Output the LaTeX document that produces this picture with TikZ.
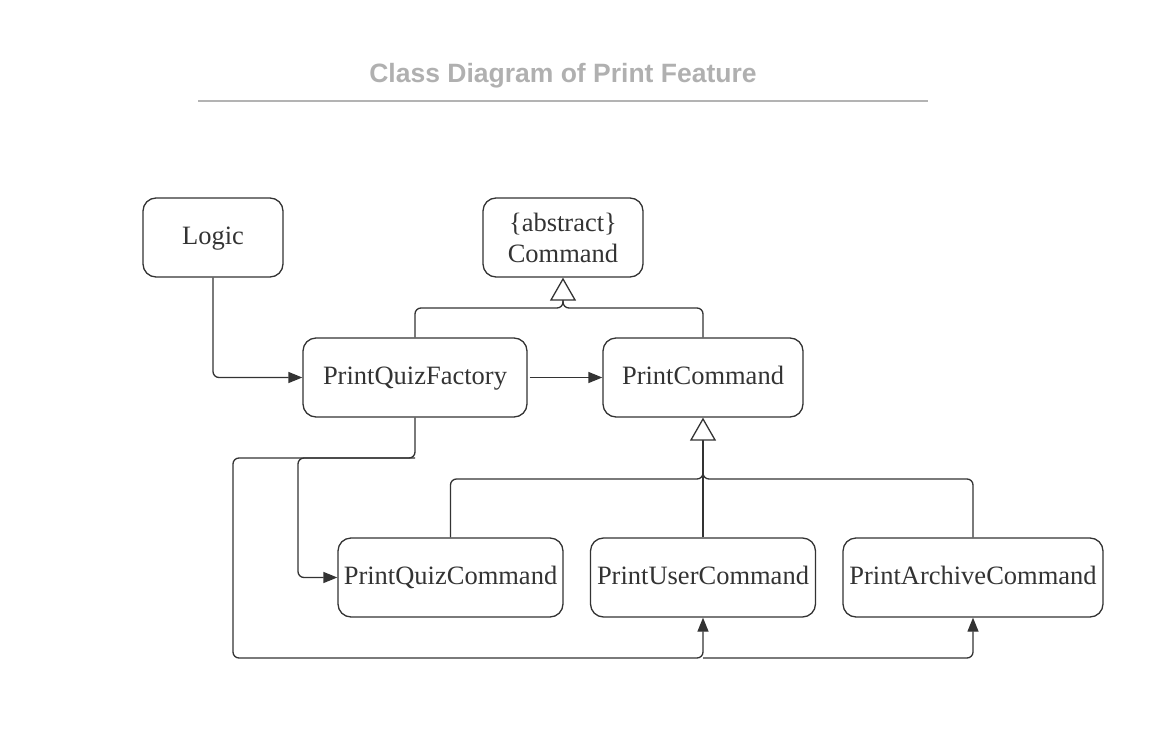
\documentclass[tikz,border=0pt]{standalone}
\usepackage{fontspec}
\setmainfont{Liberation Serif}
\newfontfamily\titlefont{Liberation Sans}
\usetikzlibrary{arrows.meta}
\definecolor{linec}{HTML}{333333}
\definecolor{titlec}{HTML}{B0B0B0}
\definecolor{rulec}{HTML}{B3B3B3}
\begin{document}
\begin{tikzpicture}[x=1pt,y=-1pt,
  clsbase/.style={draw=linec, line width=1.3pt, rounded corners=13pt, inner sep=0pt,
    text=linec, font=\fontsize{26.5}{32}\selectfont, align=center, minimum height=79pt},
  cls/.style={clsbase, text height=20pt, text depth=6pt},
  conn/.style={draw=linec, line width=1.3pt, rounded corners=6pt},
  arr/.style={-{Triangle[length=14pt,width=11pt]}},
  inh/.style={-{Triangle[open,length=23pt,width=26pt,fill=white]}}]
\useasboundingbox (0,0) rectangle (1151,744);
% title
\node[font=\titlefont\bfseries\fontsize{26.5}{30}\selectfont, text=titlec] (title) at (563,76) {Class Diagram of Print Feature};
\draw[rulec, line width=2pt] (198,101) -- (928,101);
% classes
\node[cls, minimum width=140pt] (logic) at (213,237.5) {Logic};
\node[clsbase, minimum width=160pt] (cmd) at (563,237.5) {\{abstract\}\\[-1pt]Command};
\node[cls, minimum width=224pt] (pqf) at (415,377.5) {PrintQuizFactory};
\node[cls, minimum width=200pt] (pc) at (703,377.5) {PrintCommand};
\node[cls, minimum width=225pt] (pqc) at (450.5,577.5) {PrintQuizCommand};
\node[cls, minimum width=225pt] (puc) at (703,577.5) {PrintUserCommand};
\node[cls, minimum width=260pt] (pac) at (973,577.5) {PrintArchiveCommand};
% junction coordinates
\coordinate (j1) at (563,308);
\coordinate (j1s) at (563,300);
\coordinate (j2) at (703,479);
\coordinate (j2s) at (703,470);
\coordinate (b1) at (415,458);
\coordinate (b2) at (233,458);
\coordinate (b3) at (298,458);
\coordinate (b4) at (233,658);
\coordinate (b5) at (703,658);
\coordinate (b6) at (973,658);
% associations
\draw[conn, arr] (logic.south) |- (pqf.west);
\draw[conn, arr, shorten <=2pt] (pqf.east) -- (pc.west);
% inheritance to Command
\draw[conn, inh] (pqf.north) |- (j1) -- (cmd.south);
\draw[conn] (pc.north) |- (j1) -- (j1s);
% inheritance to PrintCommand
\draw[conn, inh] (puc.north) -- (pc.south);
\draw[conn] (pqc.north) |- (j2) -- (j2s);
\draw[conn] (pac.north) |- (j2) -- (j2s);
% factory creations
\draw[conn, arr] (pqf.south) -- (b1) -- (b2) -- (b4) -- (b5) -- (puc.south);
\draw[conn, arr] (b1) -- (b3) |- (pqc.west);
\draw[conn, arr] (b5) -- (b6) -- (pac.south);
\end{tikzpicture}
\end{document}
